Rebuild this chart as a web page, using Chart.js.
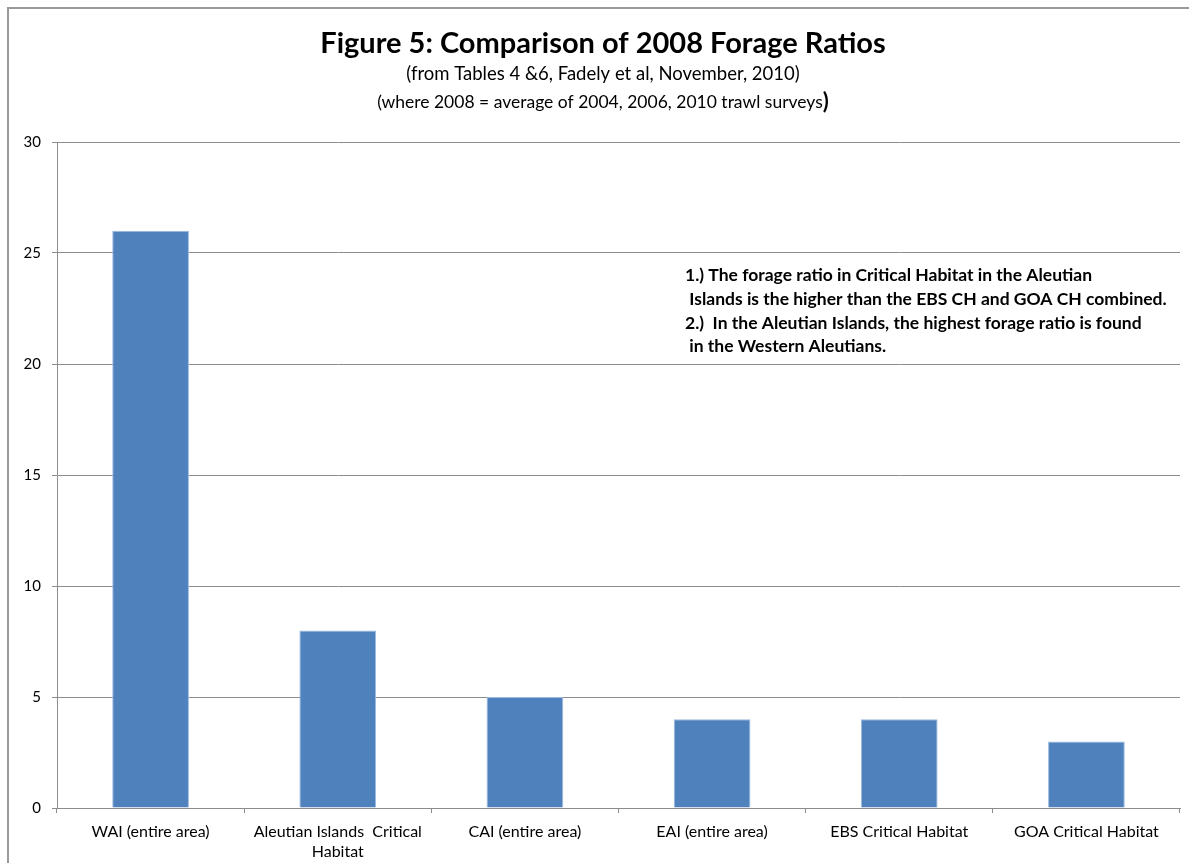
<!DOCTYPE html>
<html>
<head>
<meta charset="utf-8">
<script src="https://cdn.jsdelivr.net/npm/chart.js@4.4.1/dist/chart.umd.min.js"></script>
<style>
  html, body { margin: 0; padding: 0; background: #fff; }
  #wrap { position: relative; width: 1189px; height: 863px; }
</style>
</head>
<body>
<div id="wrap"><canvas id="c" width="1189" height="863"></canvas></div>
<script>
// Forage ratios by area
const categories = [
  'WAI (entire area)',
  ['Aleutian Islands  Critical', 'Habitat'],
  'CAI (entire area)',
  'EAI (entire area)',
  'EBS Critical Habitat',
  'GOA Critical Habitat'
];
const forageRatio = [26, 8, 5, 4, 4, 3];
const yTicks = [0, 5, 10, 15, 20, 25, 30];

const titleText = 'Figure 5: Comparison of 2008 Forage Ratios';
const subtitle1 = '(from Tables 4 &6, Fadely et al, November, 2010)';
const subtitle2 = '(where 2008 = average of 2004, 2006, 2010 trawl surveys';
const notes = [
  '1.) The forage ratio in Critical Habitat in the Aleutian',
  ' Islands is the higher than the EBS CH and GOA CH combined.',
  '2.)  In the Aleutian Islands, the highest forage ratio is found',
  ' in the Western Aleutians.'
];

const FONT = 'Lato, "Open Sans", sans-serif';

// Frame, heading and note text
const decorations = {
  id: 'decorations',
  afterDraw(chart) {
    const ctx = chart.ctx;
    ctx.save();
    // outer frame (left and top edges)
    ctx.strokeStyle = '#9a9a9a';
    ctx.lineWidth = 2;
    ctx.beginPath();
    ctx.moveTo(8, 863);
    ctx.lineTo(8, 8);
    ctx.lineTo(1189, 8);
    ctx.stroke();

    const cx = 603;
    ctx.fillStyle = '#000';
    ctx.textBaseline = 'alphabetic';
    ctx.textAlign = 'center';
    ctx.font = 'bold 29px ' + FONT;
    ctx.fillText(titleText, cx, 53);

    ctx.font = '18.5px ' + FONT;
    ctx.fillText(subtitle1, cx, 80);

    // second subtitle closes with a heavier bracket
    ctx.textAlign = 'left';
    ctx.font = '17.5px ' + FONT;
    const w1 = ctx.measureText(subtitle2).width;
    ctx.font = 'bold 22px ' + FONT;
    const w2 = ctx.measureText(')').width;
    let x0 = cx - (w1 + w2) / 2;
    ctx.font = '17.5px ' + FONT;
    ctx.fillText(subtitle2, x0, 108);
    ctx.font = 'bold 22px ' + FONT;
    ctx.fillText(')', x0 + w1, 109);

    ctx.font = 'bold 17.5px ' + FONT;
    const lineY = [281, 305, 329, 352];
    notes.forEach((t, i) => ctx.fillText(t, 685, lineY[i]));
    ctx.restore();
  }
};

new Chart(document.getElementById('c'), {
  type: 'bar',
  data: {
    labels: categories,
    datasets: [{
      data: forageRatio,
      backgroundColor: '#4F81BD',
      borderColor: '#9dbbe0',
      borderWidth: 1,
      barPercentage: 0.41,
      categoryPercentage: 1.0
    }]
  },
  options: {
    responsive: false,
    animation: false,
    devicePixelRatio: 1,
    layout: { padding: { top: 142, right: 9, left: 0, bottom: 0 } },
    plugins: {
      legend: { display: false },
      title: { display: false },
      tooltip: { enabled: false }
    },
    scales: {
      x: {
        offset: true,
        grid: {
          offset: true,
          drawOnChartArea: false,
          drawTicks: true,
          tickLength: 5,
          color: '#8c8c8c'
        },
        border: { display: true, color: '#8c8c8c', width: 1 },
        ticks: {
          color: '#000',
          font: { family: FONT, size: 16, lineHeight: 1.25 },
          padding: 9,
          maxRotation: 0,
          autoSkip: false
        },
        afterFit(scale) { scale.height = 55; }
      },
      y: {
        min: 0,
        max: 30,
        afterBuildTicks(scale) { scale.ticks = yTicks.map(v => ({ value: v })); },
        grid: {
          color: '#8c8c8c',
          tickLength: 5,
          drawTicks: true
        },
        border: { display: true, color: '#8c8c8c', width: 1 },
        ticks: {
          color: '#000',
          font: { family: FONT, size: 15 },
          padding: 11
        },
        afterFit(scale) { scale.width = 57; }
      }
    }
  },
  plugins: [decorations]
});
</script>
</body>
</html>
